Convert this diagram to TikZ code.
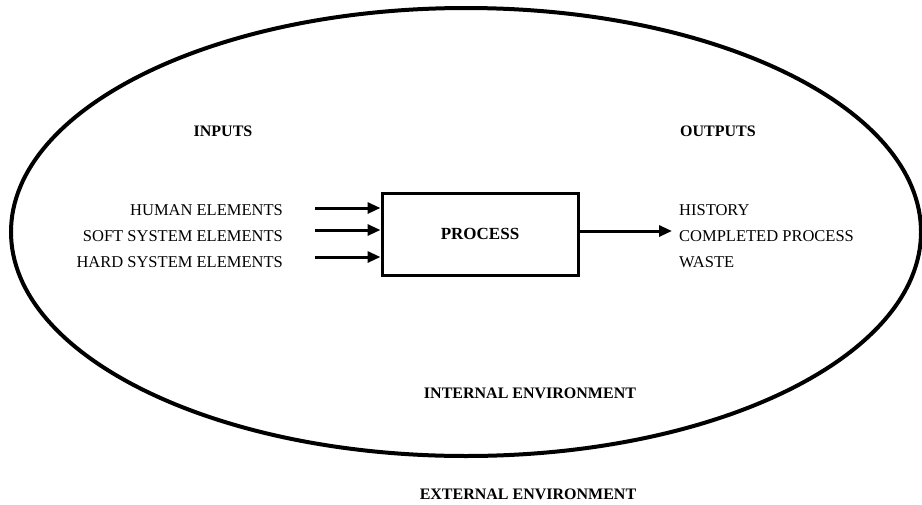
\documentclass[tikz,border=0pt]{standalone}
\usepackage{fontspec}
\setmainfont{Liberation Serif}
\usetikzlibrary{arrows.meta}

\tikzset{
  item/.style={font=\fontsize{16.5}{18}\selectfont, inner sep=0pt},
  head/.style={font=\fontsize{16}{18}\selectfont\bfseries, inner sep=0pt},
  procbox/.style={draw, line width=3pt, minimum width=196pt, minimum height=82pt,
                  font=\fontsize{17}{18}\selectfont\bfseries},
  flow/.style={line width=3pt, -{Triangle[length=13pt,width=11pt]}},
  boundary/.style={line width=4pt}
}

\begin{document}
\begin{tikzpicture}[x=1pt, y=-1pt]
  \useasboundingbox (0,0) rectangle (922,504);

  % internal environment boundary
  \draw[boundary] (466,232) ellipse [x radius=455, y radius=224];

  % headings
  \node[head] (inputs)  at (223,131) {INPUTS};
  \node[head] (outputs) at (718,131) {OUTPUTS};
  \node[head] (internal) at (530,393) {INTERNAL ENVIRONMENT};
  \node[head] (external) at (528,494) {EXTERNAL ENVIRONMENT};

  % the process
  \node[procbox] (proc) at (480,234) {PROCESS};

  % inputs
  \node[item, anchor=east] (human) at (283,210) {HUMAN ELEMENTS};
  \node[item, anchor=east] (soft)  at (283,236) {SOFT SYSTEM ELEMENTS};
  \node[item, anchor=east] (hard)  at (283,262) {HARD SYSTEM ELEMENTS};

  % outputs
  \node[item, anchor=west] (history)   at (679,210) {HISTORY};
  \node[item, anchor=west] (completed) at (679,236) {COMPLETED PROCESS};
  \node[item, anchor=west] (waste)     at (679,262) {WASTE};

  % input arrows into the process
  \coordinate (hin) at ([shift={(32,-2)}]human.east);
  \coordinate (sin) at ([shift={(32,-6)}]soft.east);
  \coordinate (din) at ([shift={(32,-5)}]hard.east);
  \draw[flow] (hin) -- (hin -| proc.west);
  \draw[flow] (sin) -- (sin -| proc.west);
  \draw[flow] (din) -- (din -| proc.west);

  % output arrow
  \coordinate (cout) at ([shift={(-7,-5)}]completed.west);
  \draw[flow] (cout -| proc.east) -- (cout);
\end{tikzpicture}
\end{document}
